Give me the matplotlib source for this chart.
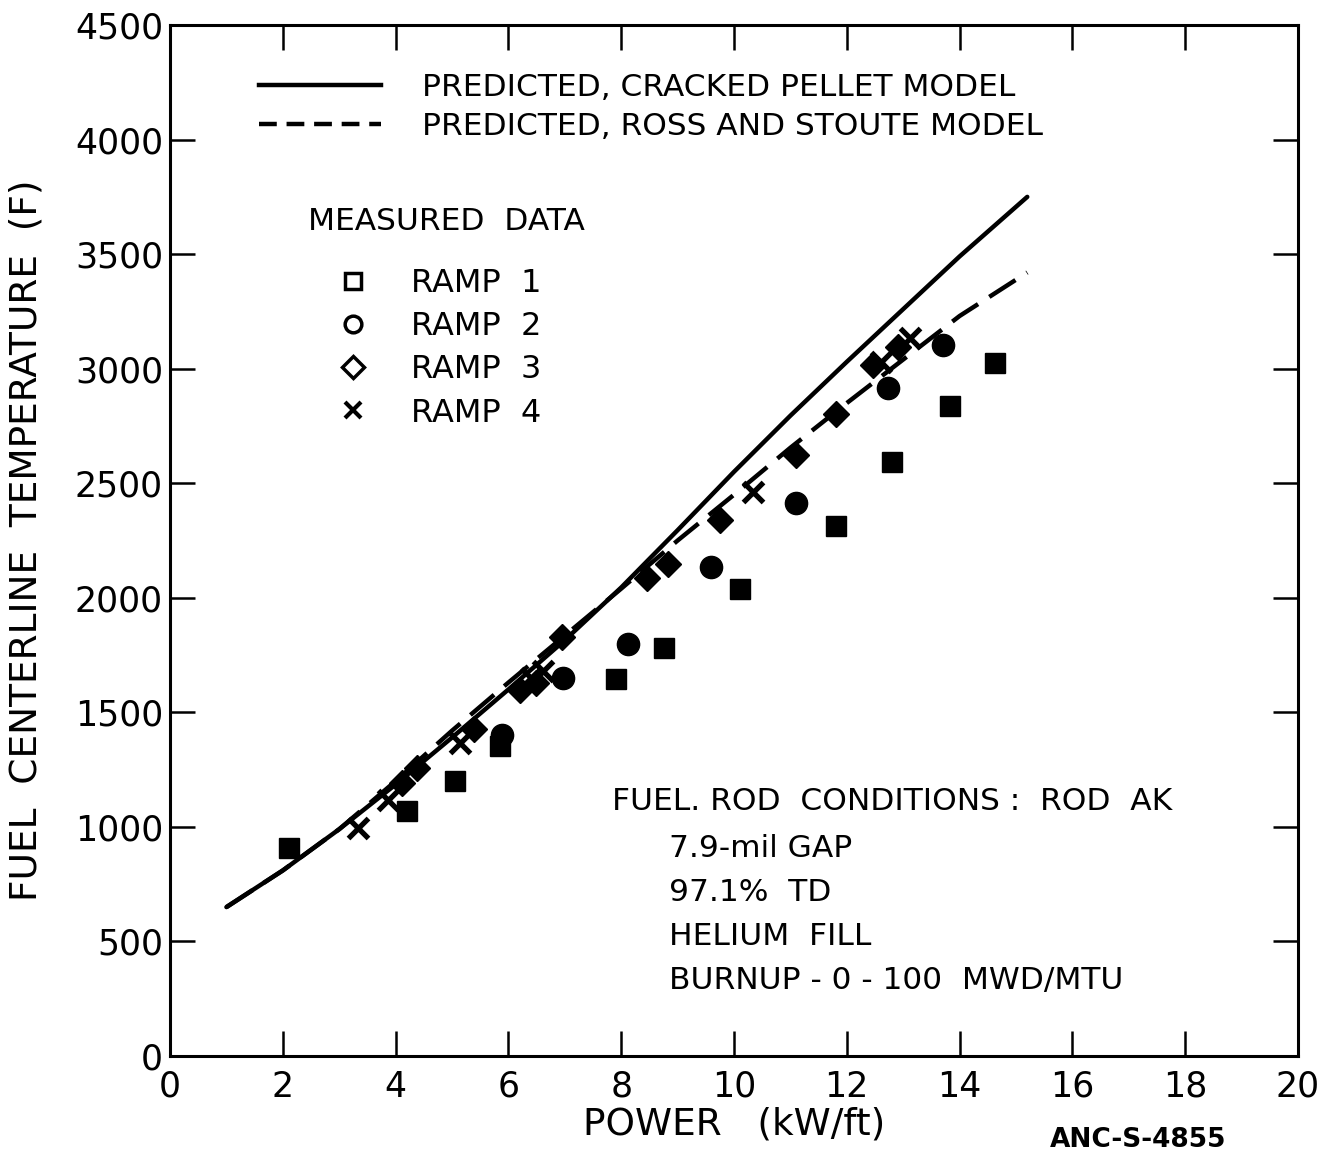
import matplotlib
matplotlib.use("Agg")
import matplotlib.pyplot as plt
from matplotlib.lines import Line2D

# ── Data ──────────────────────────────────────────────────────
# predicted curves
solid_x = [1.0, 2, 3, 4, 5, 6, 7, 8, 9, 10, 11, 12, 13, 14, 15.2]
solid_y = [650, 810, 990, 1185, 1390, 1600, 1815, 2045, 2295, 2550, 2795, 3030, 3260, 3490, 3750]
dashed_x = [1.0, 2, 3, 4, 5, 6, 7, 8, 9, 10, 11, 12, 13, 14, 15.2]
dashed_y = [650, 810, 990, 1200, 1420, 1630, 1835, 2040, 2250, 2450, 2655, 2850, 3040, 3230, 3420]

# measured data
ramp1_x = [2.11, 4.20, 5.05, 5.85, 7.91, 8.76, 10.1, 11.8, 12.8, 13.83, 14.63]
ramp1_y = [908, 1070, 1200, 1353, 1646, 1781, 2038, 2313, 2593, 2837, 3025]
ramp2_x = [5.89, 6.97, 8.12, 9.59, 11.1, 12.73, 13.7]
ramp2_y = [1401, 1650, 1798, 2134, 2414, 2914, 3105]
ramp3_x = [4.11, 4.38, 5.39, 6.2, 6.49, 6.95, 8.46, 8.83, 9.75, 11.1, 11.8, 12.46, 12.9]
ramp3_y = [1192, 1257, 1427, 1597, 1628, 1829, 2086, 2148, 2340, 2623, 2802, 3016, 3095]
ramp4_x = [3.33, 3.87, 5.14, 6.4, 6.62, 10.34, 12.6, 13.12]
ramp4_y = [995, 1117, 1366, 1650, 1680, 2462, 3030, 3134]

x_ticks = [0, 2, 4, 6, 8, 10, 12, 14, 16, 18, 20]
y_ticks = [0, 500, 1000, 1500, 2000, 2500, 3000, 3500, 4000, 4500]

conditions = ["7.9-mil GAP", "97.1%  TD", "HELIUM  FILL", "BURNUP - 0 - 100  MWD/MTU"]

# ── Plot ───────────────────────────────────────────────────────
plt.rcParams["font.family"] = ["DejaVu Sans"]

fig = plt.figure(figsize=(13.23, 11.53), dpi=100)
ax = fig.add_axes([0.1285, 0.0841, 0.8526, 0.8942])

ax.plot(solid_x, solid_y, color="black", lw=3.2, solid_capstyle="round")
ax.plot(dashed_x, dashed_y, color="black", lw=3.2, dashes=(7, 3))

mk = dict(color="black", linestyle="none")
ax.plot(ramp1_x, ramp1_y, marker="s", markersize=15, **mk)
ax.plot(ramp2_x, ramp2_y, marker="o", markersize=16, **mk)
ax.plot(ramp3_x, ramp3_y, marker="D", markersize=13, **mk)
ax.plot(ramp4_x, ramp4_y, marker="x", markersize=14, markeredgewidth=3.8, **mk)

ax.set_xlim(0, 20)
ax.set_ylim(0, 4500)
ax.set_xticks(x_ticks)
ax.set_yticks(y_ticks)
ax.tick_params(direction="in", length=18, width=1.8, top=True, right=True,
               labelsize=25)
ax.tick_params(axis="y", pad=5)
ax.tick_params(axis="x", pad=10)
for s in ax.spines.values():
    s.set_linewidth(2.2)

ax.set_xlabel("POWER   (kW/ft)", fontsize=27, labelpad=2)
ax.set_ylabel("FUEL  CENTERLINE  TEMPERATURE  (F)", fontsize=27, labelpad=22)

# model legend
model_handles = [Line2D([], [], color="black", lw=3.2),
                 Line2D([], [], color="black", lw=3.2, dashes=(4, 2.2))]
leg1 = ax.legend(model_handles,
                 ["PREDICTED, CRACKED PELLET MODEL",
                  "PREDICTED, ROSS AND STOUTE MODEL"],
                 loc="upper left", bbox_to_anchor=(0.054, 0.981), frameon=False,
                 fontsize=22.5, handlelength=3.9, handletextpad=1.3,
                 labelspacing=0.32)
ax.add_artist(leg1)

# measured data legend (open symbols)
ax.text(0.1223, 0.809, "MEASURED  DATA", transform=ax.transAxes,
        fontsize=22.5, va="center")
ramp_handles = [Line2D([], [], color="black", ls="none", marker="s", mfc="none", ms=12, mew=2.5),
                Line2D([], [], color="black", ls="none", marker="o", mfc="none", ms=12, mew=2.5),
                Line2D([], [], color="black", ls="none", marker="D", mfc="none", ms=11, mew=2.5),
                Line2D([], [], color="black", ls="none", marker="x", ms=11, mew=3)]
leg2 = ax.legend(ramp_handles, ["RAMP  1", "RAMP  2", "RAMP  3", "RAMP  4"],
                 loc="upper left", bbox_to_anchor=(0.12, 0.792), frameon=False,
                 fontsize=23, handlelength=1.2, handletextpad=1.2,
                 labelspacing=0.38)

# rod conditions
ax.text(0.392, 0.247, "FUEL. ROD  CONDITIONS :  ROD  AK", transform=ax.transAxes,
        fontsize=22.5, va="center")
for i, line in enumerate(conditions):
    ax.text(0.442, 0.201 - i * 0.0425, line, transform=ax.transAxes,
            fontsize=22.5, va="center")

fig.text(0.86, 0.005, "ANC-S-4855", fontsize=19, fontweight="bold", ha="center")

plt.savefig("out.png", dpi=100)
